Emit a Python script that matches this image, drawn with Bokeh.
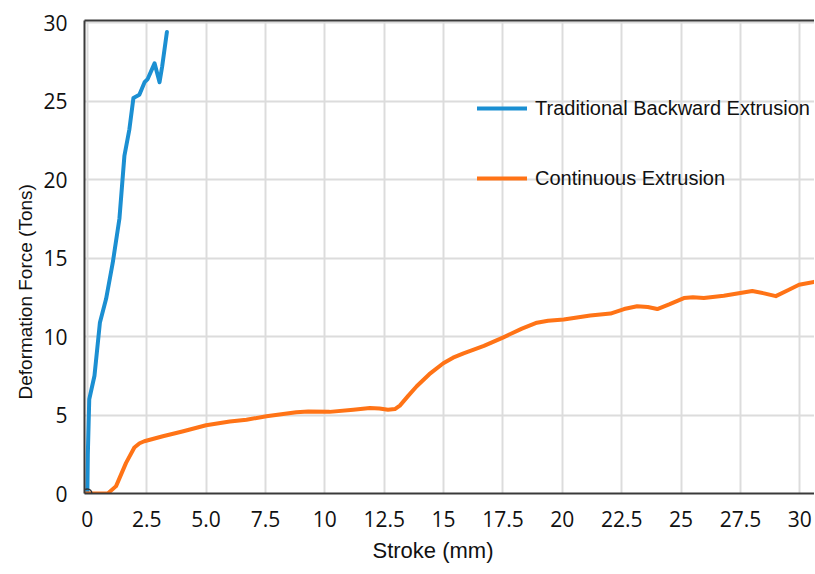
from bokeh.plotting import figure
from bokeh.models import Range1d, FixedTicker, LinearAxis, Legend, LegendItem, Title
from bokeh.embed import file_html
from bokeh.resources import INLINE

# Traditional Backward Extrusion (stroke mm, force tons)
blue_x = [0.0, 0.02, 0.08, 0.3, 0.53, 0.79, 1.07, 1.35, 1.56, 1.77, 1.94, 2.19, 2.41, 2.54, 2.83, 3.04, 3.15, 3.35]
blue_y = [0.0, 2.5, 6.0, 7.5, 10.9, 12.4, 14.7, 17.5, 21.5, 23.2, 25.2, 25.4, 26.2, 26.4, 27.4, 26.2, 27.2, 29.4]

# Continuous Extrusion
orange_x = [-0.12, 0.86, 1.21, 1.63, 1.98, 2.2, 2.4, 3.18, 4.0, 5.0, 6.0, 6.7, 7.54, 8.8, 9.3, 10.2, 11.2,
            11.9, 12.3, 12.66, 12.95, 13.16, 13.5, 13.87, 14.4, 14.99, 15.4, 15.84, 16.7, 17.52, 18.3, 18.93,
            19.4, 20.06, 21.18, 22.03, 22.6, 23.15, 23.6, 24.0, 24.5, 25.12, 25.5, 25.96, 26.8, 28.0, 28.5,
            28.99, 29.5, 29.97, 30.6]
orange_y = [0.0, 0.0, 0.47, 1.95, 2.93, 3.2, 3.33, 3.65, 3.95, 4.35, 4.58, 4.7, 4.92, 5.18, 5.22, 5.2, 5.34,
            5.44, 5.42, 5.33, 5.38, 5.6, 6.2, 6.83, 7.6, 8.3, 8.65, 8.92, 9.4, 9.95, 10.5, 10.88,
            11.0, 11.08, 11.34, 11.46, 11.75, 11.93, 11.88, 11.75, 12.05, 12.45, 12.5, 12.46, 12.6, 12.9, 12.75,
            12.57, 12.95, 13.3, 13.48]

x_ticks = [0, 2.5, 5, 7.5, 10, 12.5, 15, 17.5, 20, 22.5, 25, 27.5, 30]
x_tick_labels = ["0", "2.5", "5.0", "7.5", "10", "12.5", "15", "17.5", "20", "22.5", "25", "27.5", "30"]
y_ticks = [0, 5, 10, 15, 20, 25, 30]
y_tick_labels = ["0", "5", "10", "15", "20", "25", "30"]

series_labels = ["Traditional Backward Extrusion", "Continuous Extrusion"]
x_title = "Stroke (mm)"
y_title = "Deformation Force (Tons)"

BLUE = "#1b8fd2"
ORANGE = "#ff7316"
AXIS = "#3a3a3a"
TXT = "#111111"

p = figure(width=814, height=570, output_backend="svg", toolbar_location=None,
           x_range=Range1d(-0.12, 30.62), y_range=Range1d(0, 30.13),
           min_border_left=84, min_border_right=0, min_border_top=20, min_border_bottom=77)
p.outline_line_color = None
p.background_fill_color = "white"

p.xaxis.ticker = FixedTicker(ticks=x_ticks)
p.yaxis.ticker = FixedTicker(ticks=y_ticks)
p.xaxis.major_label_overrides = {t: l for t, l in zip(x_ticks, x_tick_labels)}
p.yaxis.major_label_overrides = {t: l for t, l in zip(y_ticks, y_tick_labels)}

for ax in (p.xaxis[0], p.yaxis[0]):
    ax.axis_line_color = AXIS
    ax.axis_line_width = 2
    ax.major_tick_line_color = None
    ax.minor_tick_line_color = None
    ax.major_label_text_font = "Open Sans"
    ax.major_label_text_font_size = "21px"
    ax.major_label_text_color = TXT

p.xaxis.major_label_standoff = 11
p.yaxis.major_label_standoff = 11

top = LinearAxis(ticker=FixedTicker(ticks=[]), axis_line_color=AXIS, axis_line_width=2,
                 major_tick_line_color=None, minor_tick_line_color=None,
                 major_label_text_font_size="0px")
p.add_layout(top, "above")

p.xgrid.grid_line_color = "#dcdcdc"
p.ygrid.grid_line_color = "#dcdcdc"
p.xgrid.grid_line_width = 2
p.ygrid.grid_line_width = 2

r_blue = p.line(blue_x, blue_y, line_color=BLUE, line_width=4, line_join="round", line_cap="round")
r_orange = p.line(orange_x, orange_y, line_color=ORANGE, line_width=4, line_join="round", line_cap="round")
p.scatter([blue_x[0]], [blue_y[0]], size=9, fill_color=None, line_color="#333333", line_width=1.5)

legend = Legend(items=[LegendItem(label=series_labels[0], renderers=[r_blue]),
                       LegendItem(label=series_labels[1], renderers=[r_orange])],
                location=(393, 303), border_line_color=None, background_fill_alpha=0,
                glyph_width=50, glyph_height=24, label_height=24, spacing=46, padding=5,
                label_standoff=8, label_text_font="Liberation Sans", label_text_font_size="20px",
                label_text_color=TXT)
p.add_layout(legend)

p.add_layout(Title(text=x_title, align="left", offset=288, standoff=12,
                   text_font="Liberation Sans", text_font_size="22px", text_font_style="normal",
                   text_color=TXT), "below")
p.add_layout(Title(text=y_title, align="left", offset=94, standoff=10,
                   text_font="Liberation Sans", text_font_size="19px", text_font_style="normal",
                   text_color=TXT), "left")

open("out.html", "w").write(file_html(p, INLINE))
